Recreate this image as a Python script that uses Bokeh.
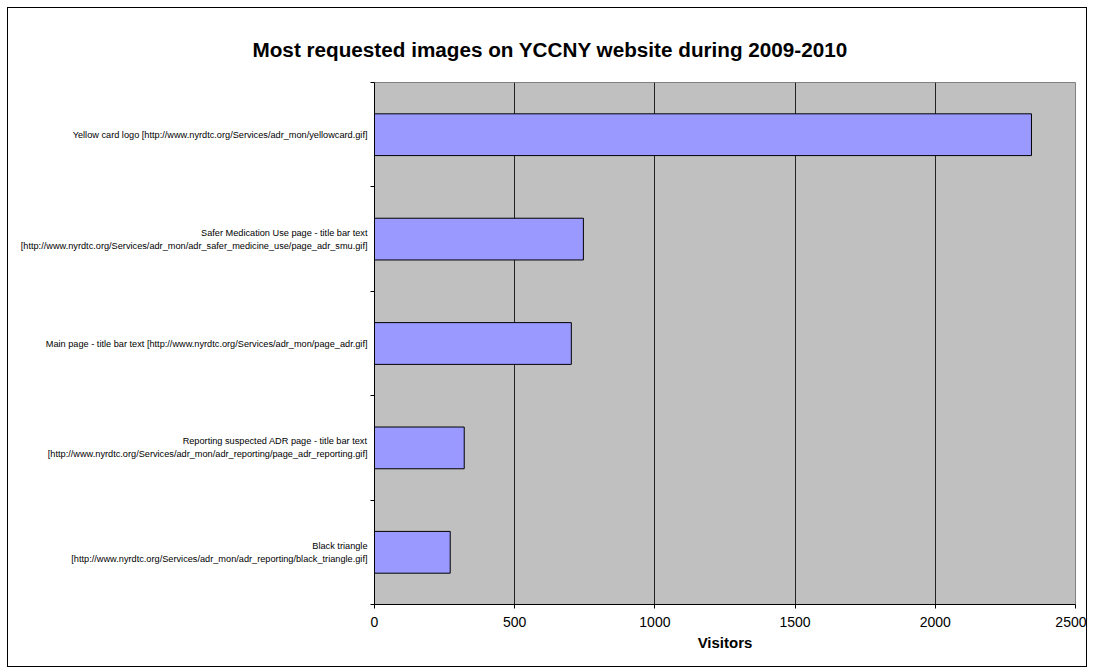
from bokeh.plotting import figure
from bokeh.models import (Range1d, LinearAxis, FixedTicker, ColumnDataSource, Title, Grid)
from bokeh.embed import file_html
from bokeh.resources import INLINE

# ---- data ----
categories = [
    "Yellow card logo [http://www.nyrdtc.org/Services/adr_mon/yellowcard.gif]",
    "Safer Medication Use page - title bar text\n[http://www.nyrdtc.org/Services/adr_mon/adr_safer_medicine_use/page_adr_smu.gif]",
    "Main page - title bar text [http://www.nyrdtc.org/Services/adr_mon/page_adr.gif]",
    "Reporting suspected ADR page - title bar text\n[http://www.nyrdtc.org/Services/adr_mon/adr_reporting/page_adr_reporting.gif]",
    "Black triangle\n[http://www.nyrdtc.org/Services/adr_mon/adr_reporting/black_triangle.gif]",
]
visitors = [2343, 745, 702, 320, 270]
x_ticks = [0, 500, 1000, 1500, 2000, 2500]

title_text = "Most requested images on YCCNY website during 2009-2010"
x_label = "Visitors"

FONT = "Liberation Sans"

n = len(categories)
# category slot centres (first category at the top)
centres = [n - 0.5 - i for i in range(n)]
src = ColumnDataSource(dict(y=centres, val=visitors))

p = figure(
    width=1080, height=660,
    y_range=Range1d(0, n),
    x_range=Range1d(x_ticks[0], x_ticks[-1]),
    output_backend="svg", toolbar_location=None,
    x_axis_location=None, y_axis_location=None,
    min_border_left=366, min_border_right=13,
    min_border_top=74, min_border_bottom=64,
    background_fill_color="#C0C0C0", border_fill_color="white",
    outline_line_color="#808080", outline_line_width=1,
)
p.styles = {"margin": "7px 0 0 7px", "border": "1px solid black"}

p.title = Title(text=title_text, align="left", offset=-122,
                text_font=FONT, text_font_size="20.7px", text_font_style="bold",
                text_color="black", standoff=43)

# remove default grids
p.center = [r for r in p.center if not isinstance(r, Grid)]

# bars
p.hbar(y="y", right="val", left=0, height=0.4, source=src,
       fill_color="#9999FF", line_color="black", line_width=1)

# x axis
xa = LinearAxis(ticker=FixedTicker(ticks=x_ticks))
xa.axis_label = x_label
xa.axis_label_text_font = FONT
xa.axis_label_text_font_size = "15px"
xa.axis_label_text_font_style = "bold"
xa.axis_label_text_color = "black"
xa.axis_label_standoff = 4
xa.major_label_text_font = FONT
xa.major_label_text_font_size = "14px"
xa.major_label_text_color = "black"
xa.major_label_standoff = 8
xa.major_tick_in = 0
xa.major_tick_out = 4
xa.minor_tick_line_color = None
xa.axis_line_color = "black"
xa.major_tick_line_color = "black"
p.add_layout(xa, "below")

# y separator ticks (category boundaries)
bounds = list(range(n + 1))
ya_ticks = LinearAxis(ticker=FixedTicker(ticks=bounds))
ya_ticks.major_label_overrides = {b: "" for b in bounds}
ya_ticks.major_label_text_font_size = "1px"
ya_ticks.major_label_standoff = 0
ya_ticks.major_tick_in = 0
ya_ticks.major_tick_out = 4
ya_ticks.minor_tick_line_color = None
ya_ticks.axis_line_color = "black"
ya_ticks.major_tick_line_color = "black"
p.add_layout(ya_ticks, "left")

# y category labels
ya = LinearAxis(ticker=FixedTicker(ticks=centres))
ya.major_label_overrides = {c: lab for c, lab in zip(centres, categories)}
ya.axis_line_color = None
ya.major_tick_line_color = None
ya.minor_tick_line_color = None
ya.major_label_text_font = FONT
ya.major_label_text_font_size = "9.2px"
ya.major_label_text_color = "black"
ya.major_label_standoff = -3
ya.major_label_text_line_height = 1.3
p.add_layout(ya, "left")

# grid
p.add_layout(Grid(dimension=0, ticker=xa.ticker, grid_line_color="#222222",
                  grid_line_width=1))

open("out.html", "w").write(file_html(p, INLINE))
